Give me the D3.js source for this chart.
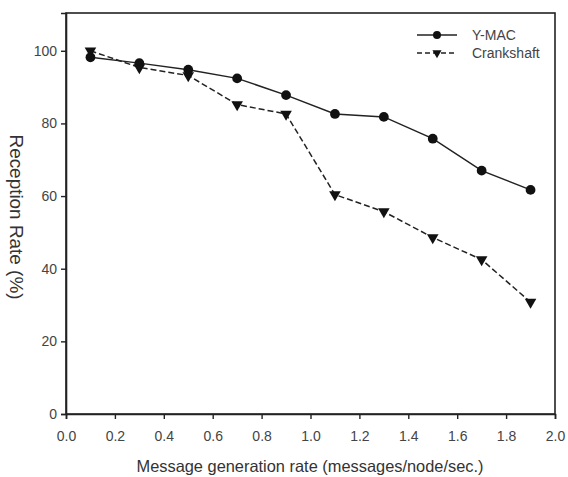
<!DOCTYPE html>
<html>
<head>
<meta charset="utf-8">
<script src="https://cdn.jsdelivr.net/npm/d3@7"></script>
<style>
  body { margin: 0; background: #fff; }
  svg { display: block; font-family: "Liberation Sans", Arial, sans-serif; }
</style>
</head>
<body>
<svg width="568" height="477"></svg>
<script>
var xValues = [0.1, 0.3, 0.5, 0.7, 0.9, 1.1, 1.3, 1.5, 1.7, 1.9];
var ymacValues = [98.2, 96.6, 94.8, 92.4, 87.8, 82.6, 81.8, 75.8, 67.0, 61.7];
var crankValues = [100, 95.4, 93.2, 85.2, 82.6, 60.4, 55.7, 48.6, 42.5, 30.8];
var xTicks = [0, 0.2, 0.4, 0.6, 0.8, 1.0, 1.2, 1.4, 1.6, 1.8, 2.0];
var yTicks = [0, 20, 40, 60, 80, 100];
var seriesNames = ["Y-MAC", "Crankshaft"];

var svg = d3.select("svg"),
	plotLeft = 66, plotRight = 555, plotTop = 13, plotBottom = 414;

var x = d3.scaleLinear().domain([0, 2]).range([plotLeft, plotRight]);
var y = d3.scaleLinear().domain([0, 110.4]).range([plotBottom, plotTop]);

var ink = "#222";

// frame
svg.append("rect")
	.attr("x", plotLeft).attr("y", plotTop)
	.attr("width", plotRight - plotLeft).attr("height", plotBottom - plotTop)
	.attr("fill", "none").attr("stroke", ink).attr("stroke-width", 1.6);

var xAxis = svg.append("g")
	.attr("transform", "translate(0," + plotBottom + ")")
	.call(d3.axisBottom(x).tickValues(xTicks).tickFormat(d3.format(".1f")).tickSize(5).tickPadding(12));
var yAxis = svg.append("g")
	.attr("transform", "translate(" + plotLeft + ",0)")
	.call(d3.axisLeft(y).tickValues(yTicks).tickSize(5).tickPadding(4));

[xAxis, yAxis].forEach(function(g){
	g.select(".domain").attr("stroke", ink).attr("stroke-width", 1.6);
	g.selectAll(".tick line").attr("stroke", ink).attr("stroke-width", 1.4);
	g.selectAll(".tick text").attr("fill", "#444").style("font-size", "14px");
});

var line = d3.line()
	.x(function(d){ return x(d[0]); })
	.y(function(d){ return y(d[1]); });

var ymac = xValues.map(function(v, i){ return [v, ymacValues[i]]; });
var crank = xValues.map(function(v, i){ return [v, crankValues[i]]; });

svg.append("path").datum(ymac)
	.attr("d", line).attr("fill", "none")
	.attr("stroke", ink).attr("stroke-width", 1.5);
svg.append("path").datum(crank)
	.attr("d", line).attr("fill", "none")
	.attr("stroke", ink).attr("stroke-width", 1.5)
	.attr("stroke-dasharray", "6,3");

var circle = d3.symbol().type(d3.symbolCircle).size(75);
var tri = d3.symbol().type(d3.symbolTriangle).size(58);

svg.selectAll(".ym").data(ymac).enter().append("path")
	.attr("d", circle)
	.attr("transform", function(d){ return "translate(" + x(d[0]) + "," + y(d[1]) + ")"; })
	.attr("fill", "#111");
svg.selectAll(".cr").data(crank).enter().append("path")
	.attr("d", tri)
	.attr("transform", function(d){ return "translate(" + x(d[0]) + "," + y(d[1]) + ") rotate(180)"; })
	.attr("fill", "#111");

// legend
var legendCircle = d3.symbol().type(d3.symbolCircle).size(50);
var legendTri = d3.symbol().type(d3.symbolTriangle).size(36);
var legend = svg.append("g");
seriesNames.forEach(function(name, i){
	var ly = 35 + i * 18;
	legend.append("line")
		.attr("x1", 417).attr("x2", 457).attr("y1", ly).attr("y2", ly)
		.attr("stroke", ink).attr("stroke-width", 1.5)
		.attr("stroke-dasharray", i ? "5,3" : null);
	legend.append("path")
		.attr("d", i ? legendTri : legendCircle)
		.attr("transform", "translate(437," + ly + ")" + (i ? " rotate(180)" : ""))
		.attr("fill", "#111");
	legend.append("text")
		.attr("x", 472).attr("y", ly + 5)
		.attr("fill", "#444").style("font-size", "14px")
		.text(name);
});

// axis titles
svg.append("text")
	.attr("transform", "translate(10,217) rotate(90)")
	.attr("text-anchor", "middle")
	.attr("textLength", 165).attr("lengthAdjust", "spacingAndGlyphs")
	.attr("fill", "#333").style("font-size", "18px")
	.text("Reception Rate (%)");
svg.append("text")
	.attr("x", 310).attr("y", 472)
	.attr("text-anchor", "middle")
	.attr("textLength", 347).attr("lengthAdjust", "spacingAndGlyphs")
	.attr("fill", "#333").style("font-size", "16.5px")
	.text("Message generation rate (messages/node/sec.)");
</script>
</body>
</html>
